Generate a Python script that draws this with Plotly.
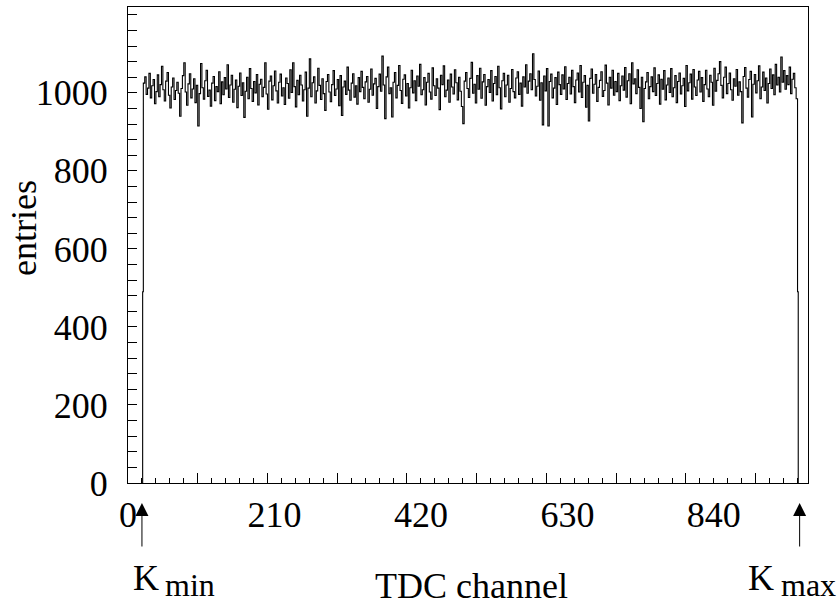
#!/usr/bin/env python3
"""TDC channel occupancy histogram (flat distribution between K_min and K_max)."""

import plotly.graph_objects as go

FONT = "Liberation Serif"

# histogram: partially filled edge bins plus 469 bins of 2 channels each
first_channel = 22
bin_width = 2
edge_count = 490
counts = [
    1025, 1041, 996, 1012, 1050, 987, 1018, 1034, 972, 1003, 1046, 990, 1021, 1068, 1008, 979, 1030, 1052, 994, 961,
    1015, 1038, 983, 1006, 1027, 999, 940, 1011, 1044, 1077, 1002, 968, 1023, 1049, 987, 1010, 1036, 975, 1019, 915,
    998, 1075, 1013, 984, 1031, 1058, 991, 1007, 966, 1025, 1042, 980, 1016, 1003, 1054, 972, 1028, 995, 1039, 1010,
    1072, 988, 1020, 1045, 976, 1009, 1033, 962, 1017, 1051, 993, 1026, 937, 1004, 1040, 985, 1062, 1011, 978, 1029,
    1000, 1047, 969, 1022, 1035, 990, 1014, 1077, 997, 958, 1030, 1043, 982, 1018, 1056, 1005, 974, 1027, 1048, 992,
    1013, 970, 1038, 1024, 986, 1059, 1001, 1077, 1016, 964, 1032, 995, 1045, 1020, 979, 1008, 1053, 940, 1012, 1087,
    990, 1026, 1041, 974, 1005, 1063, 1019, 983, 1036, 998, 955, 1029, 1047, 1002, 977, 1021, 1057, 993, 1010, 1034,
    967, 1044, 942, 1015, 1030, 996, 1066, 1007, 981, 1025, 1049, 989, 1018, 971, 1039, 1003, 1055, 1014, 985, 1028,
    1042, 976, 1009, 1061, 994, 1023, 1037, 960, 1016, 1048, 1004, 1094, 1020, 934, 1041, 1066, 998, 1013, 938, 1027,
    1052, 987, 1019, 1070, 1006, 973, 1035, 1046, 992, 1024, 961, 1013, 1058, 1000, 1031, 980, 1043, 1017, 1073, 995,
    1008, 1039, 969, 1027, 1050, 1002, 984, 1064, 1018, 993, 1036, 1012, 957, 1045, 1021, 1069, 990, 1007, 1033, 976,
    1048, 1015, 997, 1059, 1026, 982, 1040, 1004, 965, 921, 1030, 1052, 1011, 988, 1037, 1078, 999, 1022, 974, 1044,
    1009, 1063, 986, 1028, 1047, 968, 1016, 1034, 1001, 1057, 979, 1024, 1042, 995, 1068, 1013, 959, 1031, 1050, 990,
    1020, 1045, 976, 1011, 1060, 1003, 987, 1038, 1054, 996, 1025, 966, 1041, 1015, 1072, 999, 1030, 1049, 1008, 1100,
    1034, 992, 1017, 1056, 981, 1026, 918, 1043, 1005, 1062, 915, 1029, 1048, 987, 1012, 1039, 970, 1053, 1021, 996,
    1046, 1010, 1067, 983, 1024, 1040, 997, 1058, 1016, 975, 1033, 1051, 1002, 1070, 988, 1027, 1044, 963, 1019, 928,
    1037, 1061, 999, 1022, 1047, 978, 1014, 1032, 1054, 991, 1006, 1071, 1025, 969, 1040, 1012, 1058, 994, 1029, 1003,
    1050, 980, 1018, 1043, 1007, 1065, 989, 1031, 1049, 972, 1077, 1023, 1036, 998, 1059, 1014, 960, 1040, 926, 1011,
    1028, 1052, 985, 1016, 1041, 1003, 1064, 993, 1024, 1046, 971, 1035, 1009, 1057, 982, 1020, 1038, 1001, 1062, 990,
    1013, 1044, 975, 1029, 1051, 997, 1018, 1037, 965, 1070, 1005, 1026, 1048, 984, 1060, 1015, 993, 1033, 1055, 1002,
    1039, 978, 1021, 1058, 1010, 990, 1045, 1027, 968, 1063, 1004, 1032, 1049, 1080, 1019, 987, 1040, 1066, 998, 1024,
    1051, 1008, 981, 1036, 1017, 1060, 994, 1028, 1003, 923, 1042, 1065, 1012, 989, 1034, 1055, 938, 1022, 1047, 1000,
    1031, 1069, 985, 1015, 1053, 1006, 1038, 974, 1024, 1061, 1011, 1046, 995, 1073, 1020, 1040, 1002, 1092, 1027, 1057,
    1009, 1044, 1021, 1066, 998, 1035, 1050, 1013, 985,
]

x_label_vals = [0, 210, 420, 630, 840]
x_range = [0, 975]
y_range = [0, 1220]
k_min = 20
k_max = 963

# step outline: rise from 0, half bin, full bins, half bin, back to 0
last_channel = first_channel + bin_width * len(counts)
xs = [first_channel - 1, first_channel - 1]
ys = [0, edge_count]
for i, c in enumerate(counts):
    xs.append(first_channel + i * bin_width)
    ys.append(c)
xs += [last_channel, last_channel + 1, last_channel + 1]
ys += [edge_count, 0, 0]

fig = go.Figure()
fig.add_trace(go.Scatter(x=xs, y=ys, mode="lines", line=dict(color="black", width=1.1, shape="hv"),
                         hoverinfo="skip", showlegend=False))
# empty trace so the tick-only axis is drawn
fig.add_trace(go.Scatter(x=[], y=[], xaxis="x2", showlegend=False))

W, H = 840, 607
L, R, T, B = 128, 32, 7, 124
pw, ph = W - L - R, H - T - B


def px(xp):
    return (xp - L) / pw


def py(yp):
    return (H - B - yp) / ph


tickfont = dict(family=FONT, size=36, color="black")
fig.update_layout(
    width=W, height=H,
    margin=dict(l=L, r=R, t=T, b=B),
    paper_bgcolor="white", plot_bgcolor="white",
    font=dict(family=FONT, size=36, color="black"),
    xaxis=dict(range=x_range, tickvals=x_label_vals, ticks="", showgrid=False, zeroline=False,
               showline=True, linecolor="black", linewidth=1, mirror=True,
               tickfont=tickfont, ticklabelstandoff=0),
    xaxis2=dict(range=x_range, overlaying="x", anchor="y", side="bottom", showgrid=False, zeroline=False,
                showticklabels=False, ticks="inside", tick0=0, dtick=100, ticklen=10, tickcolor="black",
                minor=dict(ticks="inside", dtick=20, ticklen=5, tickcolor="black", showgrid=False)),
    yaxis=dict(range=y_range, tick0=0, dtick=200, ticks="inside", ticklen=9, tickcolor="black",
               minor=dict(ticks="inside", dtick=40, ticklen=9, tickcolor="black", showgrid=False),
               showgrid=False, zeroline=False, showline=True, linecolor="black", linewidth=1, mirror=True,
               tickfont=tickfont, ticklabelstandoff=12),
)

ann = [
    dict(text="entries", textangle=-90, x=px(24), y=py(228), size=36, xanchor="center"),
    dict(text="TDC channel", x=px(471), y=py(586), size=36, xanchor="center"),
    dict(text="K", x=px(131), y=py(578), size=36, xanchor="left"),
    dict(text="min", x=px(163), y=py(585), size=32, xanchor="left"),
    dict(text="K", x=px(746), y=py(578), size=36, xanchor="left"),
    dict(text="max", x=px(779), y=py(585), size=32, xanchor="left"),
]
for a in ann:
    size = a.pop("size")
    fig.add_annotation(xref="paper", yref="paper", showarrow=False, yanchor="middle",
                       font=dict(family=FONT, size=size, color="black"), **a)

for k in (k_min, k_max):
    fig.add_annotation(x=k, y=py(503), xref="x", yref="paper", text="", showarrow=True,
                       ax=0, ay=45, arrowhead=2, arrowsize=2.6, arrowwidth=1, arrowcolor="black")

fig.write_html("out.html", config={"displayModeBar": False},
               post_script="document.body.style.margin='0';")
